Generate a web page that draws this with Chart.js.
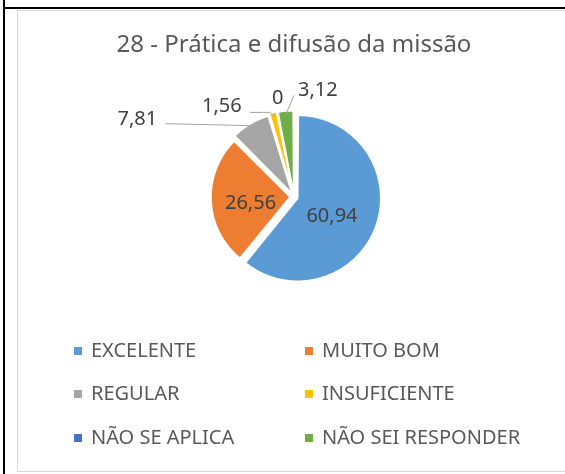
<!DOCTYPE html>
<html>
<head>
<meta charset="utf-8">
<script src="https://cdn.jsdelivr.net/npm/chart.js@4"></script>
<style>
  html, body { margin: 0; padding: 0; background: #fff; }
  body { width: 565px; height: 474px; position: relative; overflow: hidden; }
  .edge-left { position: absolute; left: 3px; top: 0; width: 2px; height: 474px; background: #000; }
  .edge-top { position: absolute; left: 3px; top: 7px; width: 562px; height: 2px; background: #000; }
  .frame { position: absolute; left: 17px; top: 10px; width: 600px; height: 460px; border: 1px solid #d9d9d9; }
  #chart { position: absolute; left: 0; top: 0; }
</style>
</head>
<body>
<div class="edge-left"></div>
<div class="edge-top"></div>
<div class="frame"></div>
<canvas id="chart" width="565" height="474"></canvas>
<script>
const categories = ["EXCELENTE", "MUITO BOM", "REGULAR", "INSUFICIENTE", "NÃO SE APLICA", "NÃO SEI RESPONDER"];
const percentages = [60.94, 26.56, 7.81, 1.56, 0, 3.12];
const sliceColors = ["#5B9BD5", "#ED7D31", "#A5A5A5", "#FFC000", "#4472C4", "#70AD47"];
const chartTitle = "28 - Prática e difusão da missão";

const FONT = "'Noto Sans', 'Open Sans', sans-serif";
const SLICE_OFFSET = 16; // arc shifts by offset / 4

// where each value label sits: inside = relative to slice centroid,
// otherwise relative to the slice's outer edge, with optional leader line
const labelPlacement = [
  { inside: true, dx: -3, dy: 5 },
  { inside: true, dx: 0, dy: 4 },
  { dx: -114, dy: -6, leader: [[-86, -2]] },
  { dx: -52, dy: -10, leader: [[-4, -4], [-24, -4]] },
  { dx: -1, dy: -21 },
  { dx: 32, dy: -24, leader: [[8, -19]] },
];

const fmt = (v) => String(v).replace(".", ",");

const valueLabels = {
  id: "valueLabels",
  afterDatasetsDraw(chart) {
    const { ctx } = chart;
    const meta = chart.getDatasetMeta(0);
    ctx.save();
    ctx.font = "20px " + FONT;
    ctx.textAlign = "center";
    ctx.textBaseline = "middle";
    meta.data.forEach((arc, i) => {
      const p = arc.getProps(["x", "y", "startAngle", "endAngle", "outerRadius"], true);
      const mid = (p.startAngle + p.endAngle) / 2;
      const shift = p.endAngle > p.startAngle ? SLICE_OFFSET / 4 : 0;
      const cx = p.x + Math.cos(mid) * shift;
      const cy = p.y + Math.sin(mid) * shift;
      const place = labelPlacement[i];
      const r = place.inside ? p.outerRadius / 2 : p.outerRadius;
      const ax = cx + Math.cos(mid) * r;
      const ay = cy + Math.sin(mid) * r;

      if (place.leader) {
        ctx.strokeStyle = "#a6a6a6";
        ctx.lineWidth = 1;
        ctx.beginPath();
        ctx.moveTo(ax, ay);
        place.leader.forEach(([lx, ly]) => ctx.lineTo(ax + lx, ay + ly));
        ctx.stroke();
      }
      ctx.fillStyle = "#404040";
      ctx.fillText(fmt(percentages[i]), ax + place.dx, ay + place.dy);
    });
    ctx.restore();
  },
};

// two-column legend under the pie
const gridLegend = {
  id: "gridLegend",
  afterDraw(chart) {
    const { ctx } = chart;
    const colX = [74, 305];
    const rowY = [351, 394, 438];
    ctx.save();
    ctx.font = "20px " + FONT;
    ctx.textBaseline = "middle";
    ctx.textAlign = "left";
    categories.forEach((name, i) => {
      const x = colX[i % 2];
      const y = rowY[Math.floor(i / 2)];
      ctx.fillStyle = sliceColors[i];
      ctx.fillRect(x, y - 4, 8, 8);
      ctx.fillStyle = "#595959";
      ctx.fillText(name, x + 17, y);
    });
    ctx.restore();
  },
};

new Chart(document.getElementById("chart"), {
  type: "pie",
  data: {
    labels: categories,
    datasets: [
      {
        data: percentages,
        backgroundColor: sliceColors,
        borderColor: "#ffffff",
        borderWidth: 1.5,
        offset: SLICE_OFFSET,
        hoverOffset: 0,
      },
    ],
  },
  options: {
    responsive: false,
    animation: false,
    radius: 79,
    layout: { padding: { top: 20, left: 40, right: 17, bottom: 150 } },
    plugins: {
      legend: { display: false },
      tooltip: { enabled: false },
      title: {
        display: true,
        text: chartTitle,
        color: "#595959",
        font: { family: FONT, size: 24, weight: "normal" },
        padding: { top: 11, bottom: 10 },
      },
    },
  },
  plugins: [valueLabels, gridLegend],
});
</script>
</body>
</html>
